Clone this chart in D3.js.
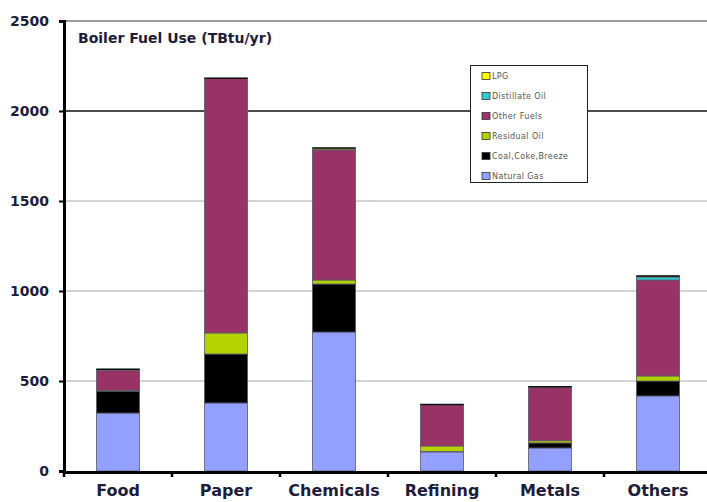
<!DOCTYPE html>
<html>
<head>
<meta charset="utf-8">
<script src="https://cdn.jsdelivr.net/npm/d3@7"></script>
<style>
  html, body { margin: 0; padding: 0; background: #fff; }
  svg { display: block; }
</style>
</head>
<body>
<svg id="chart" width="707" height="502"></svg>
<script>
// Boiler fuel use by industry, TBtu/yr, stacked bottom to top
const categories = ["Food", "Paper", "Chemicals", "Refining", "Metals", "Others"];
const naturalGas     = [322, 378, 772, 106, 128, 417];
const coalCokeBreeze = [122, 272, 267,   3,  28,  83];
const residualOil    = [  5, 117,  22,  30,  12,  28];
const otherFuels     = [111,1413, 722, 228, 298, 533];
const distillateOil  = [  2,   0,   3,   0,   0,  17];
const lpg            = [  3,   2,   8,   3,   2,   5];
const yTicks = [0, 500, 1000, 1500, 2000, 2500];

const seriesNames  = ["Natural Gas", "Coal,Coke,Breeze", "Residual Oil", "Other Fuels", "Distillate Oil", "LPG"];
const seriesValues = [naturalGas, coalCokeBreeze, residualOil, otherFuels, distillateOil, lpg];
const seriesColors = ["#94a0ff", "#000000", "#b4d200", "#993366", "#33cccc", "#ffff00"];

const rows = categories.map((c, i) => {
  const r = { category: c };
  seriesNames.forEach((s, k) => r[s] = seriesValues[k][i]);
  return r;
});

const svg = d3.select("#chart");
const plotLeft = 64, plotRight = 712, plotTop = 21, plotBottom = 471;

const x = d3.scaleBand().domain(categories).range([plotLeft, plotRight])
  .paddingInner(0.6).paddingOuter(0.3);
const y = d3.scaleLinear().domain([0, 2500]).range([plotBottom, plotTop]);

const labelColor = "#1c1c3c";

// gridlines
svg.append("g").selectAll("line").data(yTicks.filter(t => t > 0)).join("line")
  .attr("x1", plotLeft).attr("x2", 707)
  .attr("y1", d => y(d)).attr("y2", d => y(d))
  .attr("stroke", d => d === 2000 ? "#111" : (d === 2500 ? "#9a9a9a" : "#a8a8a8"))
  .attr("stroke-width", d => d === 2500 ? 2 : (d === 2000 ? 1.5 : 1.2));

// stacked bars
const stack = d3.stack().keys(seriesNames);
const layers = stack(rows);
svg.append("g").selectAll("g").data(layers).join("g")
  .attr("fill", (d, i) => seriesColors[i])
  .selectAll("rect").data(d => d).join("rect")
  .attr("x", d => x(d.data.category))
  .attr("width", x.bandwidth())
  .attr("y", d => y(d[1]))
  .attr("height", d => Math.max(0, y(d[0]) - y(d[1])))
  .attr("stroke", "#5a5a6a")
  .attr("stroke-width", 0.8);

// bar top caps
svg.append("g").selectAll("line").data(rows).join("line")
  .attr("x1", d => x(d.category)).attr("x2", d => x(d.category) + x.bandwidth())
  .attr("y1", d => y(d3.sum(seriesNames, s => d[s])))
  .attr("y2", d => y(d3.sum(seriesNames, s => d[s])))
  .attr("stroke", "#111").attr("stroke-width", 1.5);

// y axis
const yAxis = d3.axisLeft(y).tickValues(yTicks).tickSize(5).tickPadding(10)
  .tickFormat(d3.format("d"));
const gy = svg.append("g").attr("transform", `translate(${plotLeft},0)`).call(yAxis);
gy.select(".domain").attr("stroke", "#000").attr("stroke-width", 3);
gy.selectAll(".tick line").attr("stroke", "#000").attr("stroke-width", 2);
gy.selectAll(".tick text")
  .attr("fill", labelColor)
  .style("font-family", "'DejaVu Sans', sans-serif")
  .style("font-weight", "bold").style("font-size", "14px");

// x axis
const xAxis = d3.axisBottom(x).tickSize(0).tickPadding(13);
const gx = svg.append("g").attr("transform", `translate(0,${plotBottom + 1})`).call(xAxis);
gx.select(".domain").attr("stroke", "#000").attr("stroke-width", 3);
gx.selectAll(".tick text")
  .attr("fill", labelColor)
  .style("font-family", "'DejaVu Sans', sans-serif")
  .style("font-weight", "bold").style("font-size", "16px");

// category separator ticks
const step = x.step();
const seps = categories.map(c => x(c) - step * x.paddingOuter());
svg.append("g").selectAll("line").data(seps).join("line")
  .attr("x1", d => d).attr("x2", d => d)
  .attr("y1", plotBottom).attr("y2", plotBottom + 6)
  .attr("stroke", "#000").attr("stroke-width", 2.5);

// title
svg.append("text")
  .attr("x", 78).attr("y", 43)
  .attr("fill", labelColor)
  .style("font-family", "'DejaVu Sans', sans-serif")
  .style("font-weight", "bold").style("font-size", "14px")
  .text("Boiler Fuel Use (TBtu/yr)");

// legend
const lg = svg.append("g");
lg.append("rect")
  .attr("x", 470.5).attr("y", 65.5).attr("width", 117).attr("height", 117)
  .attr("fill", "#fff").attr("stroke", "#222").attr("stroke-width", 1);
const legendOrder = seriesNames.map((s, i) => i).reverse();
const item = lg.selectAll("g.item").data(legendOrder).join("g")
  .attr("class", "item")
  .attr("transform", (d, j) => `translate(482, ${76 + j * 20})`);
item.append("rect")
  .attr("x", 0).attr("y", -3.5).attr("width", 8).attr("height", 7)
  .attr("fill", d => seriesColors[d]).attr("stroke", "#333").attr("stroke-width", 0.8);
item.append("text")
  .attr("x", 10).attr("y", 3)
  .attr("fill", "#555")
  .style("font-family", "'DejaVu Sans', sans-serif")
  .style("font-size", "8px")
  .style("letter-spacing", "0.4px")
  .text(d => seriesNames[d]);
</script>
</body>
</html>
